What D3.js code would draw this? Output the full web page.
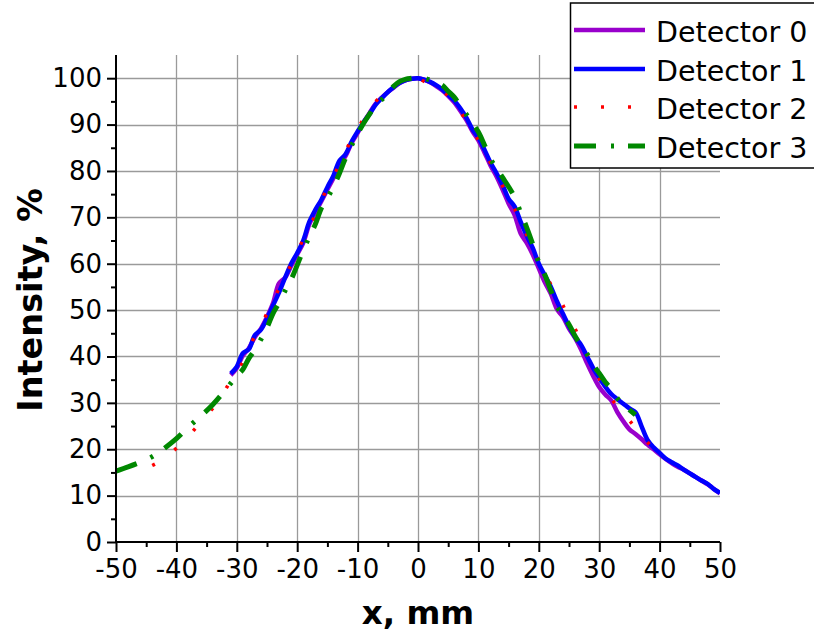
<!DOCTYPE html>
<html>
<head>
<meta charset="utf-8">
<script src="https://cdn.jsdelivr.net/npm/d3@7"></script>
<style>
  html, body { margin: 0; padding: 0; background: #fff; }
  svg { display: block; }
  text { font-family: "DejaVu Sans", Verdana, sans-serif; fill: #000; }
</style>
</head>
<body>
<svg id="chart" width="814" height="633"></svg>
<script>
// ---------------- DATA ----------------
const seriesNames = ["Detector 0", "Detector 1", "Detector 2", "Detector 3"];
const xTickLabels = [-50, -40, -30, -20, -10, 0, 10, 20, 30, 40, 50];
const yTickLabels = [0, 10, 20, 30, 40, 50, 60, 70, 80, 90, 100];

// x positions (mm)
const xDet01 = [-31,-30,-29,-28,-27,-26,-25,-24,-23,-22,-21,-20,-19,-18,-17,-16,-15,-14,-13,-12,-11,-10,-9,-8,-7,-6,-5,-4,-3,-2,-1,0,1,2,3,4,5,6,7,8,9,10,11,12,13,14,15,16,17,18,19,20,21,22,23,24,25,26,27,28,29,30,31,32,33,34,35,36,37,38,39,40,41,42,43,44,45,46,47,48,49,50];
const det0 = [36.0,37.5,40.2,41.8,44.2,46.0,48.5,51.5,55.8,57.0,59.5,62.0,64.5,68.5,71.0,73.5,76.0,78.5,81.5,83.2,86.0,88.2,90.5,92.5,94.5,95.8,97.0,98.0,99.0,99.6,99.9,100,99.7,99.1,98.3,97.4,96.2,94.8,93.0,91.0,88.6,86.6,84.0,81.2,78.8,76.0,73.0,70.5,66.5,64.5,62.0,59.0,56.0,53.5,50.2,48.5,46.0,44.0,41.5,38.5,35.8,33.4,31.8,30.5,28.0,26.0,24.3,23.3,22.2,21.0,20.0,18.9,17.9,17.0,16.2,15.6,14.8,14.0,13.2,12.4,11.4,10.5];
const det1 = [36.3,37.8,40.7,41.6,44.6,45.8,48.2,51.0,53.8,57.0,60.0,62.3,65.0,69.0,71.6,73.8,76.5,79.0,82.2,83.6,86.3,88.5,90.5,92.3,94.3,95.7,97.0,98.1,99.0,99.6,99.9,100,99.7,99.2,98.5,97.6,96.4,95.2,93.5,91.5,89.0,87.2,84.6,81.8,79.5,77.0,74.0,72.3,69.0,66.0,63.4,60.0,57.5,55.0,51.9,49.2,46.5,44.2,42.5,40.0,37.5,35.4,33.5,31.9,30.8,29.8,28.8,28.0,25.0,22.0,20.4,19.2,18.0,17.2,16.5,15.6,14.8,14.0,13.2,12.5,11.4,10.6];

const xDet2 = [-44,-43,-42,-41,-40,-39,-38,-37,-36,-35,-34,-33,-32,-31,-30,-29,-28,-27,-26,-25,-24,-23,-22,-21,-20,-19,-18,-17,-16,-15,-14,-13,-12,-11,-10,-9,-8,-7,-6,-5,-4,-3,-2,-1,0,1,2,3,4,5,6,7,8,9,10,11,12,13,14,15,16,17,18,19,20,21,22,23,24,25,26,27,28,29,30,31,32,33,34,35,36,37,38,39,40,41];
const det2 = [16.5,17.2,18.2,19.2,20.2,21.5,22.8,24.3,25.8,27.2,28.8,30.6,32.6,34.8,36.6,38.8,41.5,44.5,46.8,49.3,52.0,54.7,57.5,59.8,62.5,65.3,68.0,70.5,73.5,76.5,78.8,81.5,84.2,86.8,89.0,91.3,93.3,95.0,96.2,97.4,98.4,99.1,99.6,99.9,100,99.3,98.8,98.0,97.2,96.2,94.6,92.8,90.8,88.8,86.6,84.2,81.7,79.2,76.8,74.2,71.8,69.0,66.2,63.4,60.5,58.0,55.5,53.0,51.0,48.0,46.0,43.0,40.5,37.8,35.2,33.0,31.0,29.2,27.8,26.2,24.6,22.9,21.5,20.2,19.0,17.9];

const xDet3 = [-50,-48,-46,-44,-42,-40,-38,-36,-34,-32,-30,-29,-28,-27,-26,-25,-24,-23,-22,-21,-20,-19,-18,-17,-16,-15,-14,-13,-12,-11,-10,-9,-8,-7,-6,-5,-4,-3,-2,-1,0,1,2,3,4,5,6,7,8,9,10,11,12,13,14,15,16,17,18,19,20,21,22,23,24,25,26,27,28,29,30,31,32,33,34,35,36];
const det3 = [15.3,16.2,17.2,18.4,20.2,22.3,24.8,27.1,29.6,32.6,35.8,37.2,39.6,41.4,43.7,46.2,49.3,51.6,54.2,56.6,59.7,62.9,65.8,68.5,72.0,74.2,76.6,79.5,82.8,85.5,88.0,90.3,92.3,94.2,95.4,96.8,98.3,99.3,99.8,100,100.2,100,99.6,99.1,98.5,97.2,95.9,94.0,92.2,90.3,88.4,85.6,82.6,80.6,78.6,76.6,74.3,71.0,67.8,64.2,60.3,57.6,54.2,50.8,48.8,46.9,44.4,42.3,40.5,38.2,36.4,34.5,33.0,31.0,29.6,28.5,27.4];

const seriesColors = ["#9900cc", "#0000ff", "#ff0000", "#008800"];

// ---------------- CHART ----------------
const svg = d3.select("#chart");
const mLeft = 116, mRight = 720, mTop = 55, mBottom = 542;

const x = d3.scaleLinear().domain([-50, 50]).range([mLeft, mRight]);
const y = d3.scaleLinear().domain([0, 105]).range([mBottom, mTop]);

// grid
const grid = svg.append("g");
grid.selectAll("line.v").data(xTickLabels.filter(d => d > -50 && d < 50)).enter()
  .append("line")
  .attr("x1", d => Math.round(x(d)) + 0.5).attr("x2", d => Math.round(x(d)) + 0.5)
  .attr("y1", mTop).attr("y2", mBottom)
  .attr("stroke", "#9a9a9a").attr("stroke-width", 1.3);
grid.selectAll("line.h").data(yTickLabels.filter(d => d > 0)).enter()
  .append("line")
  .attr("x1", mLeft).attr("x2", mRight)
  .attr("y1", d => Math.round(y(d)) + 0.5).attr("y2", d => Math.round(y(d)) + 0.5)
  .attr("stroke", "#9a9a9a").attr("stroke-width", 1.3);

// curves
const datasets = [
  xDet01.map((v, i) => [v, det0[i]]),
  xDet01.map((v, i) => [v, det1[i]]),
  xDet2.map((v, i) => [v, det2[i]]),
  xDet3.map((v, i) => [v, det3[i]])
];
const dashes = [null, null, "3 24", "22 15 3 14"];
const widths = [4.5, 4.5, 3.5, 5];

svg.append("clipPath").attr("id", "clip")
  .append("rect").attr("x", mLeft).attr("y", mTop - 5).attr("width", mRight - mLeft).attr("height", mBottom - mTop + 5);

const line = d3.line().x(d => x(d[0])).y(d => y(d[1])).curve(d3.curveCatmullRom.alpha(0.5));
const curves = svg.append("g").attr("clip-path", "url(#clip)");
datasets.forEach((ds, i) => {
  curves.append("path")
    .datum(ds)
    .attr("d", line)
    .attr("fill", "none")
    .attr("stroke", seriesColors[i])
    .attr("stroke-width", widths[i])
    .attr("stroke-dasharray", dashes[i])
    .attr("stroke-linejoin", "round");
});

// axes
const fmt = d => String(d);
const xAxis = d3.axisBottom(x).tickValues(xTickLabels).tickSize(10).tickPadding(6).tickFormat(fmt);
const xMinor = d3.axisBottom(x).tickValues(d3.range(-45, 50, 10)).tickSize(5).tickFormat("");
const yAxis = d3.axisLeft(y).tickValues(yTickLabels).tickSize(9).tickPadding(5).tickFormat(fmt);
const yMinor = d3.axisLeft(y).tickValues(d3.range(5, 105, 10)).tickSize(5).tickFormat("");

function styleAxis(g) {
  g.select(".domain").attr("stroke", "#000").attr("stroke-width", 2);
  g.selectAll(".tick line").attr("stroke", "#000").attr("stroke-width", 2);
  g.selectAll(".tick text").attr("font-size", 26).attr("font-family", "DejaVu Sans, sans-serif").attr("fill", "#000");
}

const gxm = svg.append("g").attr("transform", `translate(0,${mBottom})`).call(xMinor);
gxm.select(".domain").remove();
gxm.selectAll(".tick line").attr("stroke", "#000").attr("stroke-width", 2);
const gym = svg.append("g").attr("transform", `translate(${mLeft},0)`).call(yMinor);
gym.select(".domain").remove();
gym.selectAll(".tick line").attr("stroke", "#000").attr("stroke-width", 2);

const gx = svg.append("g").attr("transform", `translate(0,${mBottom})`).call(xAxis);
gx.select(".domain").attr("d", `M${mLeft},0H${mRight}`);
styleAxis(gx);
gx.selectAll(".tick text").attr("dy", "0.71em").attr("y", 18);

const gy = svg.append("g").attr("transform", `translate(${mLeft},0)`).call(yAxis);
gy.select(".domain").attr("d", `M0,${mTop}V${mBottom}`);
styleAxis(gy);

// axis titles
svg.append("text")
  .attr("x", 418).attr("y", 624)
  .attr("text-anchor", "middle")
  .attr("font-size", 32.5).attr("font-weight", "bold")
  .text("x, mm");
svg.append("text")
  .attr("transform", "translate(42,300) rotate(-90)")
  .attr("text-anchor", "middle")
  .attr("font-size", 33.5).attr("font-weight", "bold")
  .text("Intensity, %");

// legend
const lg = svg.append("g");
lg.append("rect").attr("x", 570.5).attr("y", 3).attr("width", 260).attr("height", 165)
  .attr("fill", "#fff").attr("stroke", "#000").attr("stroke-width", 1.5);
const rowY = [30, 69, 107, 146];
seriesNames.forEach((name, i) => {
  lg.append("line")
    .attr("x1", 574).attr("x2", 645)
    .attr("y1", rowY[i]).attr("y2", rowY[i])
    .attr("stroke", seriesColors[i])
    .attr("stroke-width", widths[i])
    .attr("stroke-dasharray", dashes[i]);
  lg.append("text")
    .attr("x", 656).attr("y", rowY[i] + 12)
    .attr("font-size", 28.5)
    .text(name);
});
</script>
</body>
</html>
